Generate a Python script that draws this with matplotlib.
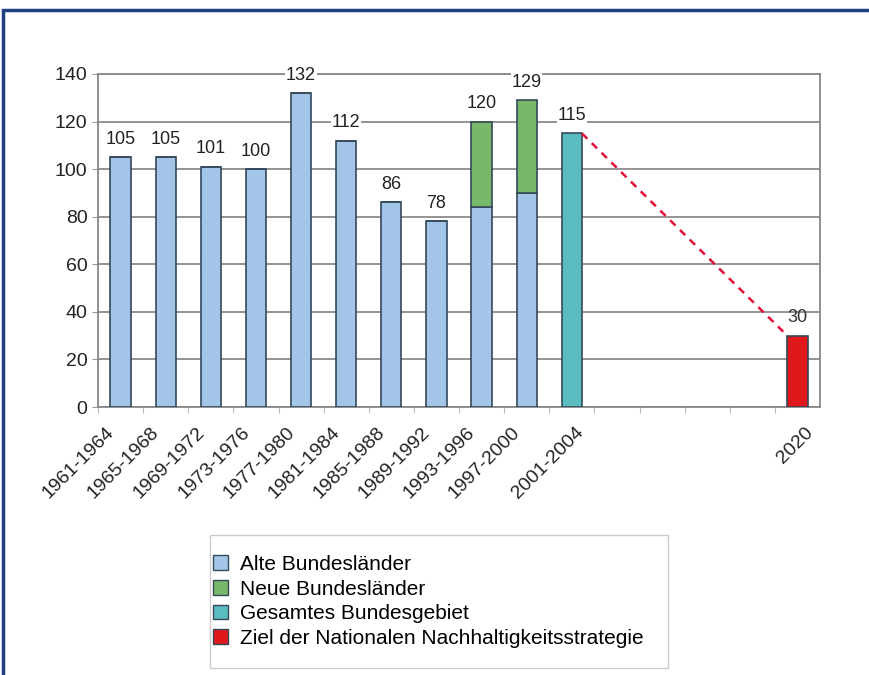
from matplotlib import pyplot as plt
from matplotlib.patches import Rectangle, Patch
from matplotlib.transforms import ScaledTranslation
import numpy as np

plt.rcParams['font.family'] = ['Liberation Sans', 'DejaVu Sans']

periods = ['1961-1964', '1965-1968', '1969-1972', '1973-1976', '1977-1980',
           '1981-1984', '1985-1988', '1989-1992', '1993-1996', '1997-2000',
           '2001-2004', '', '', '', '', '2020']
alte = [105, 105, 101, 100, 132, 112, 86, 78, 84, 90]
neue = [0, 0, 0, 0, 0, 0, 0, 0, 36, 39]
gesamt = 115
ziel = 30
labels_top = [105, 105, 101, 100, 132, 112, 86, 78, 120, 129, 115]

c_alte = '#a3c6e8'
c_neue = '#78b86b'
c_gesamt = '#5bbcbf'
c_ziel = '#e0181c'
edge = '#34495a'

fig = plt.figure(figsize=(8.69, 6.75), dpi=100)
ax = fig.add_axes([98 / 869, 1 - 407 / 675, 722 / 869, 333 / 675])

x = np.arange(len(periods))
w = 0.45
ax.bar(x[:10], alte, w, color=c_alte, edgecolor=edge, linewidth=1.2, zorder=3)
ax.bar(x[:10], neue, w, bottom=alte, color=c_neue, edgecolor=edge, linewidth=1.2, zorder=3)
ax.bar(x[10], gesamt, w, color=c_gesamt, edgecolor=edge, linewidth=1.2, zorder=3)
ax.bar(x[15], ziel, w, color=c_ziel, edgecolor=edge, linewidth=1.2, zorder=3)

ax.plot([x[10] + w / 2, x[15] - w / 2], [gesamt, ziel], linestyle=(0, (3, 2.5)),
        color='#e0103a', linewidth=1.8, zorder=4)

for i, v in enumerate(labels_top):
    ax.text(x[i], v + 4, str(v), ha='center', va='bottom', fontsize=13, color='#222222',
            zorder=5, bbox=dict(facecolor='white', edgecolor='none', pad=0.5))
ax.text(x[15], ziel + 4, str(ziel), ha='center', va='bottom', fontsize=13, color='#333333', zorder=5)

ax.set_xlim(-0.5, 15.5)
ax.set_ylim(0, 140)
ax.set_yticks(range(0, 141, 20))
ax.tick_params(axis='y', labelsize=14, length=4, color='#999999', labelcolor='#222222')
ax.set_xticks(x - 0.5, minor=False)
ax.set_xticklabels([])
ax.set_xticks(x, minor=True)
ax.set_xticklabels(periods, minor=True, rotation=45, ha='right', va='center',
                   rotation_mode='anchor', fontsize=14, color='#222222')
ax.tick_params(axis='x', which='minor', length=0, pad=16.5)
ax.tick_params(axis='x', which='major', length=4, color='#bbbbbb')
# the original's labels sit a little left of the bars, the last two a little right
for i, lab in enumerate(ax.get_xticklabels(minor=True)):
    dx = -0.09 if i < 10 else (0.09 if i == 10 else 0.13)
    lab.set_transform(lab.get_transform() + ScaledTranslation(dx, 0, fig.dpi_scale_trans))
ax.grid(axis='y', color='#777777', linewidth=1.1, zorder=0)
for s in ax.spines.values():
    s.set_color('#888888')
    s.set_linewidth(1.3)

# legend box drawn separately so the padding matches
fig.patches.append(Rectangle((210 / 869, 1 - 668 / 675), 458 / 869, 133 / 675,
                             transform=fig.transFigure, facecolor='white',
                             edgecolor='#cccccc', linewidth=1.0))
handles = [Patch(facecolor=c_alte, edgecolor=edge), Patch(facecolor=c_neue, edgecolor=edge),
           Patch(facecolor=c_gesamt, edgecolor=edge), Patch(facecolor=c_ziel, edgecolor=edge)]
names = ['Alte Bundesländer', 'Neue Bundesländer', 'Gesamtes Bundesgebiet',
         'Ziel der Nationalen Nachhaltigkeitsstrategie']
leg = fig.legend(handles, names, loc='upper left', bbox_to_anchor=(213 / 869, 1 - 555 / 675),
                 fontsize=15, frameon=False, handlelength=0.7, handleheight=0.7,
                 handletextpad=0.6, labelspacing=0.27, borderpad=0, borderaxespad=0)

fig.patches.append(Rectangle((3 / 869, -0.1), 1.2, 1 - 10 / 675 + 0.1, transform=fig.transFigure,
                             fill=False, edgecolor='#1f3f80', linewidth=2.5))

fig.savefig('out.png', dpi=100)
